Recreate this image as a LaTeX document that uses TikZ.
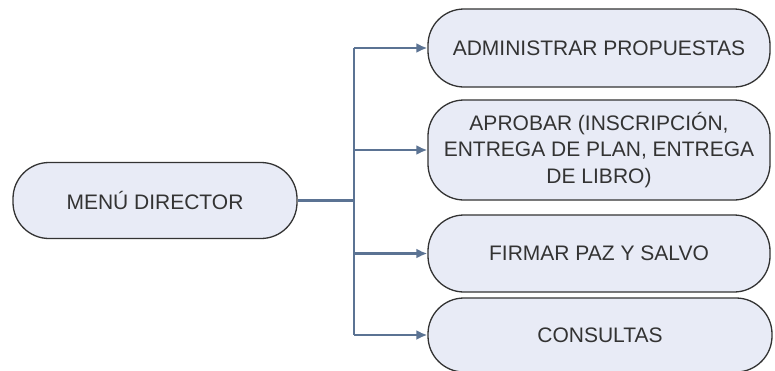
\documentclass[tikz,border=0pt]{standalone}
\usepackage{fontspec}
\setmainfont{Liberation Sans}
\usetikzlibrary{arrows.meta}
\definecolor{boxfill}{HTML}{E8EBF6}
\definecolor{boxline}{HTML}{333333}
\definecolor{conncol}{HTML}{5B7393}
\definecolor{txtcol}{HTML}{333333}
\begin{document}
\begin{tikzpicture}[x=1pt,y=-1pt,
  pill/.style={draw=boxline,line width=1.3pt,fill=boxfill,rounded corners=36pt,
    inner sep=0pt,align=center,text=txtcol,
    font=\fontsize{21}{26.5}\selectfont},
  conn/.style={draw=conncol,line width=2.2pt},
  arr/.style={conn,-{Latex[length=11pt,width=10pt]}}]
\useasboundingbox[fill=white] (0,0) rectangle (775,370);
\node[pill,minimum width=284pt,minimum height=76pt] (main) at (155,200.5) {MENÚ DIRECTOR};
\node[pill,minimum width=342pt,minimum height=78pt] (b1) at (599,48) {ADMINISTRAR PROPUESTAS};
\node[pill,minimum width=342pt,minimum height=100pt] (b2) at (599,150) {APROBAR (INSCRIPCIÓN,\\ENTREGA DE PLAN, ENTREGA\\DE LIBRO)};
\node[pill,minimum width=342pt,minimum height=77pt] (b3) at (599,253.5) {FIRMAR PAZ Y SALVO};
\node[pill,minimum width=344pt,minimum height=74pt] (b4) at (600,335) {CONSULTAS};
\coordinate (j) at (354,200.5);
\draw[conn] (main.east) -- (j);
\draw[conn] (j |- b1.west) -- (j |- b4.west);
\foreach \b in {b1,b2,b3,b4}{
  \draw[arr] (j |- \b.west) -- (\b.west);
}
\end{tikzpicture}
\end{document}
